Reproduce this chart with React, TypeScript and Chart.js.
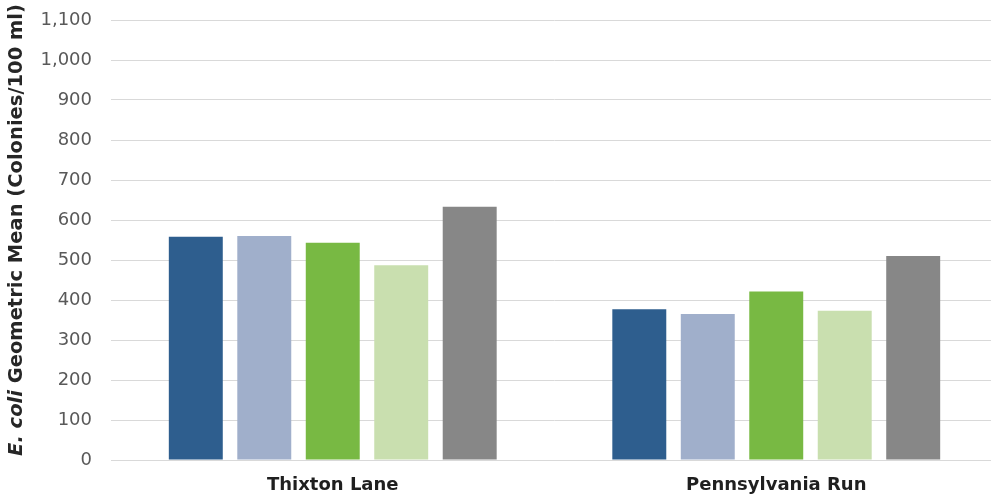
import React, { useEffect, useRef } from "react";
import { Chart, registerables } from "chart.js";

Chart.register(...registerables);

const categories = ["Thixton Lane", "Pennsylvania Run"];
const seriesNames = ["Series 1", "Series 2", "Series 3", "Series 4", "Series 5"];
const series1 = [558, 377];
const series2 = [560, 365];
const series3 = [543, 421];
const series4 = [487, 373];
const series5 = [633, 510];
const seriesColors = ["#2E5E8E", "#A0AFCB", "#78B943", "#C9DFAF", "#878787"];
const yTicksMin = 0;
const yTicksMax = 1100;
const yStep = 100;

const titleItalic = "E. coli";
const titleRest = " Geometric Mean (Colonies/100 ml)";

const yTitlePlugin = {
  id: "yTitlePlugin",
  afterDraw(chart: any) {
    const ctx = chart.ctx;
    ctx.save();
    const fam = "'DejaVu Sans', sans-serif";
    const fItalic = `italic bold 19.5px ${fam}`;
    const fNormal = `bold 19.5px ${fam}`;
    ctx.font = fItalic;
    const w1 = ctx.measureText(titleItalic).width;
    ctx.font = fNormal;
    const w2 = ctx.measureText(titleRest).width;
    const total = w1 + w2;
    const cy = 230;
    const cx = 17;
    ctx.translate(cx, cy);
    ctx.rotate(-Math.PI / 2);
    ctx.fillStyle = "#262626";
    ctx.textBaseline = "middle";
    ctx.textAlign = "left";
    let x = -total / 2;
    ctx.font = fItalic;
    ctx.fillText(titleItalic, x, 0);
    x += w1;
    ctx.font = fNormal;
    ctx.fillText(titleRest, x, 0);
    ctx.restore();
  },
};

export default function App() {
  const ref = useRef<HTMLCanvasElement>(null);
  useEffect(() => {
    if (!ref.current) return;
    const values = [series1, series2, series3, series4, series5];
    const chart = new Chart(ref.current, {
      type: "bar",
      data: {
        labels: categories,
        datasets: values.map((v, i) => ({
          label: seriesNames[i],
          data: v,
          backgroundColor: seriesColors[i],
          borderWidth: 0,
          categoryPercentage: 0.772,
          barPercentage: 0.788,
        })),
      },
      options: {
        animation: false,
        responsive: true,
        maintainAspectRatio: false,
        layout: { padding: { top: 20, right: 0, left: 0, bottom: 0 } },
        plugins: { legend: { display: false }, tooltip: { enabled: false } },
        scales: {
          x: {
            grid: { display: false, drawTicks: false },
            border: { display: true, color: "#D9D9D9", width: 1 },
            ticks: {
              padding: 15,
              color: "#1F1F1F",
              font: { family: "'DejaVu Sans', sans-serif", size: 18, weight: "bold" },
            },
            afterFit(scale: any) {
              scale.height = 35;
              scale.paddingLeft = 0;
              scale.paddingRight = 0;
            },
          },
          y: {
            min: yTicksMin,
            max: yTicksMax,
            grid: { color: "#D9D9D9", drawTicks: false },
            border: { display: false },
            ticks: {
              stepSize: yStep,
              padding: 19,
              color: "#595959",
              font: { family: "'DejaVu Sans', sans-serif", size: 18 },
              callback: (v: any) => Number(v).toLocaleString("en-US"),
            },
            afterFit(scale: any) {
              scale.width = 111;
              scale.paddingTop = 0;
              scale.paddingBottom = 0;
            },
          },
        },
      },
      plugins: [yTitlePlugin],
    });
    return () => chart.destroy();
  }, []);
  return (
    <div style={{ position: "fixed", left: 0, top: 0, width: 998, height: 495, background: "#fff" }}>
      <canvas ref={ref} />
    </div>
  );
}
